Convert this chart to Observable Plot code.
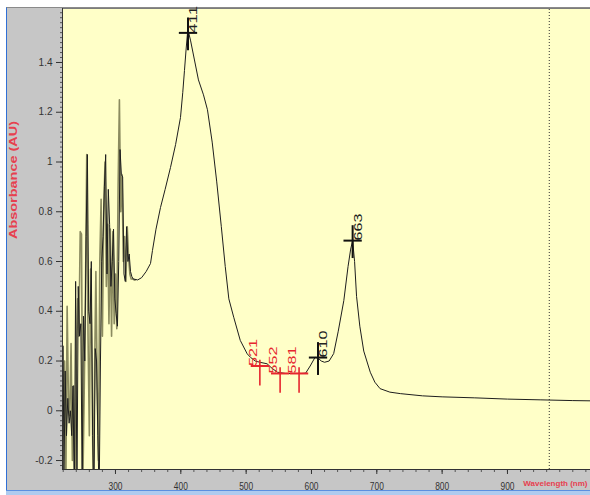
<!DOCTYPE html>
<html><head><meta charset="utf-8">
<script src="https://cdn.jsdelivr.net/npm/d3@7"></script>
<script src="https://cdn.jsdelivr.net/npm/@observablehq/plot@0.6"></script>
<style>
body{margin:0;background:#fff;}
#wrap{position:relative;width:590px;height:495px;overflow:hidden;background:#fff;}
#panel{position:absolute;left:6px;top:7px;width:584px;height:488px;background:#c6c6c6;border-left:1px solid #2f6fd6;border-top:1px solid #8a8a8a;box-sizing:border-box;}
#bottomband{position:absolute;left:6px;top:490px;width:584px;height:5px;background:#aecbef;border-top:1px solid #5b8fe0;box-sizing:border-box;}
#chart{position:absolute;left:0;top:0;}
</style></head>
<body><div id="wrap"><div id="panel"></div><div id="bottomband"></div><div id="chart"></div></div>
<script>
// Main spectrum (black trace)
const spectrumWl = [220,221,223,225,227,229,231,233,235,237,239,241,243,245,247,249,251,253,255,257,259,261,263,265,267,269,271,273,275,277,279,281,283,285,287,289,291,293,295,297,299,301,303,305,307,309,311,313,315,317,319,321,323,325,327,
 334,340,347,353.6,356.6,362,368.9,376,384.2,392,399.5,403,405.6,408,410.2,412,414.8,420.9,427,434.7,440.8,448,455,462,468,473.5,481,491,501.6,506.6,514,521,532,540,548,560,575,585,591,598,605.5,610,615,620,627,634,641,649.5,656,660,663,666,669,674,680,690,697,705,720,736,770,800,850,900,950,1000,1027];
const spectrumAbs = [0.26,-0.3,0.16,-0.1,0.05,-0.05,0.0,-0.1,0.1,-0.35,0.52,-0.35,0.5,0.3,0.35,-0.3,0.38,0.2,0.7,1.03,0.4,0.35,0.6,-0.1,-0.35,0.25,0.2,-0.1,-0.35,0.2,0.6,0.7,0.9,1.03,0.55,0.89,0.75,0.5,0.6,0.73,0.45,0.39,0.34,0.6,1.05,0.95,0.94,0.55,0.52,0.74,0.6,0.63,0.56,0.54,0.53,
 0.526,0.535,0.56,0.592,0.644,0.73,0.817,0.89,0.978,1.07,1.179,1.28,1.368,1.45,1.517,1.52,1.49,1.41,1.33,1.27,1.21,1.08,0.92,0.74,0.58,0.45,0.376,0.283,0.229,0.215,0.2,0.195,0.189,0.17,0.155,0.15,0.15,0.15,0.151,0.18,0.215,0.212,0.2,0.195,0.2,0.23,0.32,0.443,0.58,0.65,0.684,0.6,0.46,0.34,0.24,0.155,0.115,0.089,0.075,0.069,0.06,0.056,0.052,0.047,0.044,0.041,0.04];

// Second (olive) noisy trace in the UV region
const noiseWl = [220,222,224,226,228,230,232,234,236,238,240,242,244,246,248,250,252,254,256,258,260,262,264,266,268,270,272,274,276,278,280,282,284,286,288,290,292,294,296,298,300,302,304,306,308,310,312,314,316,318,320,322,324,326,330];
const noiseAbs = [0.0,0.2,-0.3,0.42,0.05,-0.02,0.27,-0.2,0.1,-0.3,0.2,0.45,0.3,0.72,0.71,-0.3,0.05,0.45,1.03,0.3,-0.1,0.57,0.2,-0.35,0.15,0.56,0.1,-0.2,0.6,0.85,0.3,0.8,1.0,0.5,0.75,0.35,0.73,0.3,0.72,0.35,0.55,0.33,0.9,1.25,0.8,0.95,0.6,0.7,0.52,0.74,0.62,0.55,0.53,0.53,0.525];

// Peak picks (black) and valley picks (red)
const peakWl = [411, 610, 663];
const peakAbs = [1.519, 0.214, 0.684];
const valleyWl = [521, 552, 581];
const valleyAbs = [0.18, 0.15, 0.15];

// Cursor (dotted vertical line)
const cursorWl = [964];

// Axis ticks
const xTicks = [300, 400, 500, 600, 700, 800, 900];
const yTicks = [-0.2, 0, 0.2, 0.4, 0.6, 0.8, 1, 1.2, 1.4];
const xMinorTicks = d3.range(220, 1021, 20);
const yMinorTicks = d3.range(-22, 161, 2).map(v => v / 100);

const xDomain = [218.9, 1027.1];
const yDomain = [-0.236, 1.617];

const yLabel = "Absorbance (AU)";
const xLabel = "Wavelength (nm)";

const spectrum = spectrumWl.map((w, i) => ({wl: w, a: spectrumAbs[i]}));
const noise = noiseWl.map((w, i) => ({wl: w, a: noiseAbs[i]}));
const peaks = peakWl.map((w, i) => ({wl: w, a: peakAbs[i]}));
const valleys = valleyWl.map((w, i) => ({wl: w, a: valleyAbs[i]}));

const RED = "#e6262e";
const LABEL_RED = "#e6404f";

const plot = Plot.plot({
  width: 590, height: 495,
  marginLeft: 62, marginTop: 8, marginRight: 0, marginBottom: 26,
  style: {background: "transparent", fontFamily: "'Liberation Sans', Arial, sans-serif", fontSize: "10px", color: "#333"},
  x: {domain: xDomain},
  y: {domain: yDomain},
  marks: [
    Plot.frame({fill: "#ffffc8", stroke: null}),
    Plot.ruleY([yDomain[1]], {stroke: "#7c7c7c", strokeWidth: 1}),
    Plot.ruleX(cursorWl, {stroke: "#333", strokeDasharray: "1,2", y1: yDomain[0], y2: yDomain[1]}),
    Plot.line(noise, {x: "wl", y: "a", stroke: "#8b8b60", strokeWidth: 1.6, clip: true}),
    Plot.line(spectrum, {x: "wl", y: "a", stroke: "#1e1e1e", strokeWidth: 1, clip: true}),
    // valley crosses (red)
    Plot.link(valleys, {x1: d => d.wl - 14, x2: d => d.wl + 14, y1: "a", y2: "a", stroke: RED, strokeWidth: 2}),
    Plot.link(valleys, {x1: "wl", x2: "wl", y1: d => d.a + 0.025, y2: d => d.a - 0.078, stroke: RED, strokeWidth: 1.6}),
    Plot.text(valleys, {x: "wl", y: "a", text: d => String(d.wl), rotate: -90, textAnchor: "start", dx: -6, fill: RED, fontSize: 10}),
    // peak crosses (black)
    Plot.link(peaks, {x1: d => d.wl - 14, x2: d => d.wl + 14, y1: "a", y2: "a", stroke: "#111", strokeWidth: 2}),
    Plot.link(peaks, {x1: "wl", x2: "wl", y1: d => d.a + 0.062, y2: d => d.a - 0.07, stroke: "#111", strokeWidth: 2}),
    Plot.text(peaks, {x: "wl", y: "a", text: d => String(d.wl), rotate: -90, textAnchor: "start", dx: 6, fill: "#222", fontSize: 10}),
    // axes
    Plot.axisY({ticks: yMinorTicks, tickSize: 2, tickFormat: () => "", label: null, stroke: "#555"}),
    Plot.axisY({ticks: yTicks, tickSize: 6, tickPadding: 4, tickFormat: d => String(+d.toFixed(1)), label: null, fontSize: 10}),
    Plot.axisX({ticks: xMinorTicks, tickSize: 3, tickFormat: () => "", label: null, stroke: "#555"}),
    Plot.axisX({ticks: xTicks, tickSize: 5, tickPadding: 8, label: null, fontSize: 11}),
    Plot.ruleX([xDomain[0]], {stroke: "#333"}),
    Plot.ruleY([yDomain[0]], {stroke: "#333"}),
    Plot.text([yLabel], {frameAnchor: "left", dx: -49, rotate: -90, fill: LABEL_RED, fontWeight: "bold", fontSize: 10}),
    Plot.text([xLabel], {frameAnchor: "bottom-right", textAnchor: "end", dx: -3, dy: 16, fill: LABEL_RED, fontWeight: "bold", fontSize: 8})
  ]
});
document.getElementById("chart").appendChild(plot);

// emulate the condensed / stretched text of the original screenshot
const svg = d3.select(plot);
svg.selectAll('g[aria-label="x-axis tick label"] text').each(function() {
  if (this.textContent.trim() !== "") d3.select(this).attr("textLength", 14).attr("lengthAdjust", "spacingAndGlyphs");
});
svg.selectAll('g[aria-label="text"] text').each(function() {
  const t = this.textContent;
  if (/^\d{3}$/.test(t)) d3.select(this).attr("textLength", 27).attr("lengthAdjust", "spacingAndGlyphs");
  else if (t === yLabel) d3.select(this).attr("textLength", 118).attr("lengthAdjust", "spacingAndGlyphs");
});
</script>
</body></html>
